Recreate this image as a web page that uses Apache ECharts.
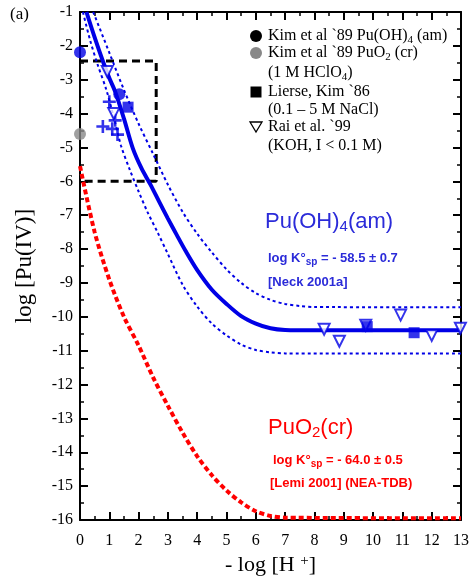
<!DOCTYPE html>
<html>
<head>
<meta charset="utf-8">
<script src="https://cdn.jsdelivr.net/npm/echarts@6/dist/echarts.min.js"></script>
<style>
  html, body { margin: 0; padding: 0; background: #fff; }
  #chart { width: 472px; height: 584px; }
</style>
</head>
<body>
<div id="chart"></div>
<script>
// Pu(OH)4(am) solubility curve and its uncertainty band (pH, log[Pu])
const amPH   = [0.22, 0.5, 0.8, 1.0, 1.2, 1.5, 1.8, 2.1, 2.4, 2.7, 3.0, 3.3, 3.6, 4.0, 4.5, 5.0, 5.5, 6.0, 6.5, 7.0, 8.0, 13];
const amLog  = [-1.0, -1.75, -2.5, -2.95, -3.35, -4.15, -5.02, -5.62, -6.09, -6.6, -7.1, -7.58, -8.05, -8.62, -9.2, -9.62, -9.98, -10.2, -10.34, -10.39, -10.4, -10.4];
const amHiPH  = [0.45, 1.0, 1.5, 2.0, 2.5, 3.0, 3.5, 4.0, 4.5, 5.0, 5.5, 6.0, 6.5, 7.0, 7.5, 8.0, 13];
const amHiLog = [-1.0, -2.2, -3.3, -4.3, -5.2, -6.1, -6.9, -7.55, -8.1, -8.6, -9.0, -9.3, -9.5, -9.62, -9.68, -9.71, -9.72];
const amLoPH  = [0.1, 0.35, 0.6, 0.9, 1.15, 1.4, 1.7, 2.0, 2.3, 2.66, 3.0, 3.5, 4.0, 4.5, 5.0, 5.5, 6.0, 6.5, 7.0, 13];
const amLoLog = [-1.0, -1.85, -2.55, -3.3, -4.1, -4.95, -5.66, -6.3, -6.9, -7.53, -8.15, -9.05, -9.7, -10.2, -10.55, -10.82, -10.98, -11.05, -11.08, -11.08];

// PuO2(cr) solubility curve
const crPH  = [0, 0.5, 1.0, 1.5, 2.0, 2.5, 3.0, 3.5, 4.0, 4.5, 5.0, 5.5, 6.0, 6.5, 7.0, 13];
const crLog = [-5.55, -7.5, -8.9, -10.0, -10.85, -11.8, -12.63, -13.42, -14.12, -14.68, -15.13, -15.48, -15.74, -15.88, -15.93, -15.95];

// Experimental data
const kimAmPH  = [0, 1.34];
const kimAmLog = [-2.19, -3.43];
const kimCrPH  = [0];
const kimCrLog = [-4.6];
const lierPH   = [1.64, 9.8, 11.4];
const lierLog  = [-3.81, -10.29, -10.47];
const raiPH    = [0.93, 1.15, 8.33, 8.85, 9.75, 10.94, 12.0, 12.98];
const raiLog   = [-2.76, -4.0, -10.37, -10.72, -10.25, -9.95, -10.55, -10.34];
const crossPH  = [1.0, 0.78, 1.1, 1.28, 1.2];
const crossLog = [-3.65, -4.38, -4.45, -4.62, -4.2];

// Region outlined by the dashed box
const boxPH  = [0, 2.6, 2.6, 0];
const boxLog = [-2.45, -2.45, -6.0, -6.0];

// Axis tick values
const xTicks = [0, 1, 2, 3, 4, 5, 6, 7, 8, 9, 10, 11, 12, 13];
const yTicks = [-1, -2, -3, -4, -5, -6, -7, -8, -9, -10, -11, -12, -13, -14, -15, -16];

const pairs = (xs, ys) => xs.map((x, i) => [x, ys[i]]);

const SERIF = '"Liberation Serif", "DejaVu Serif", serif';
const SANS = '"Liberation Sans", Arial, sans-serif';
const BLUE = '#0000e6';
const BLUE_TXT = '#2b2bd9';
const RED = '#ff0000';

const frameAxis = (common) => Object.assign({
  type: 'value',
  axisLine: { show: true, onZero: false, lineStyle: { color: '#000', width: 2 } },
  axisTick: { show: true, inside: true, length: 8, lineStyle: { color: '#000', width: 2 } },
  minorTick: { show: true, splitNumber: 2, length: 4, lineStyle: { color: '#000', width: 1.5 } },
  splitLine: { show: false },
  minorSplitLine: { show: false }
}, common);

const option = {
  animation: false,
  backgroundColor: '#fff',
  grid: { left: 80, right: 10, top: 12, bottom: 64 },
  xAxis: [
    frameAxis({
      min: xTicks[0], max: xTicks[xTicks.length - 1], interval: 1, position: 'bottom',
      axisLabel: { fontFamily: SERIF, fontSize: 16, color: '#000', margin: 13 },
      name: '- log [H {sup|+}]',
      nameLocation: 'middle', nameGap: 34,
      nameTextStyle: {
        fontFamily: SERIF, fontSize: 22, color: '#000',
        rich: { sup: { fontFamily: SERIF, fontSize: 15, verticalAlign: 'top', padding: [0, 0, 8, 0] } }
      }
    }),
    frameAxis({
      min: xTicks[0], max: xTicks[xTicks.length - 1], interval: 1, position: 'top',
      axisLabel: { show: false }
    })
  ],
  yAxis: [
    frameAxis({
      min: yTicks[yTicks.length - 1], max: yTicks[0], interval: 1, position: 'left',
      axisLabel: { fontFamily: SERIF, fontSize: 16, color: '#000', margin: 7 },
      name: 'log [Pu(IV)]',
      nameLocation: 'middle', nameGap: 44, nameRotate: 90,
      nameTextStyle: { fontFamily: SERIF, fontSize: 23, color: '#000' }
    }),
    frameAxis({
      min: yTicks[yTicks.length - 1], max: yTicks[0], interval: 1, position: 'right',
      axisLabel: { show: false }
    })
  ],
  series: [
    {
      type: 'line', data: pairs(boxPH, boxLog), showSymbol: false, silent: true,
      lineStyle: { color: '#000', width: 3, type: [8, 5] }, z: 3
    },
    {
      type: 'line', data: pairs(crPH, crLog), showSymbol: false, smooth: 0.3,
      lineStyle: { color: RED, width: 4, type: [5, 3] }, z: 4
    },
    {
      type: 'line', data: pairs(amHiPH, amHiLog), showSymbol: false, smooth: 0.3,
      lineStyle: { color: BLUE, width: 2, type: [3, 3] }, z: 4
    },
    {
      type: 'line', data: pairs(amLoPH, amLoLog), showSymbol: false, smooth: 0.3,
      lineStyle: { color: BLUE, width: 2, type: [3, 3] }, z: 4
    },
    {
      type: 'line', data: pairs(amPH, amLog), showSymbol: false, smooth: 0.3,
      lineStyle: { color: BLUE, width: 4 }, z: 5
    },
    {
      type: 'scatter', data: pairs(crossPH, crossLog), clip: false,
      symbol: 'path://M4,0 L6,0 L6,4 L10,4 L10,6 L6,6 L6,10 L4,10 L4,6 L0,6 L0,4 L4,4 Z',
      symbolSize: 13, itemStyle: { color: BLUE }, z: 6
    },
    {
      type: 'scatter', data: pairs(raiPH, raiLog), clip: false,
      symbol: 'triangle', symbolRotate: 180, symbolSize: 11,
      itemStyle: { color: '#fff', borderColor: BLUE, borderWidth: 2 }, z: 6
    },
    {
      type: 'scatter', data: pairs(lierPH, lierLog), clip: false,
      symbol: 'rect', symbolSize: 11, itemStyle: { color: BLUE }, z: 7
    },
    {
      type: 'scatter', data: pairs(kimCrPH, kimCrLog), clip: false,
      symbol: 'circle', symbolSize: 12, itemStyle: { color: '#888' }, z: 7
    },
    {
      type: 'scatter', data: pairs(kimAmPH, kimAmLog), clip: false,
      symbol: 'circle', symbolSize: 12, itemStyle: { color: BLUE }, z: 7
    }
  ],
  graphic: [
    { type: 'text', left: 10, top: 6, style: { text: '(a)', font: '17px ' + SERIF, fill: '#000' } },

    // legend
    { type: 'circle', shape: { cx: 256, cy: 36, r: 6 }, style: { fill: '#000' }, z: 10 },
    { type: 'circle', shape: { cx: 256, cy: 53, r: 6 }, style: { fill: '#888' }, z: 10 },
    { type: 'rect', shape: { x: 250.5, y: 86.5, width: 11, height: 11 }, style: { fill: '#000' }, z: 10 },
    { type: 'polygon', shape: { points: [[250, 122], [262, 122], [256, 132]] }, style: { fill: 'none', stroke: '#000', lineWidth: 1.3 }, z: 10 },
    ...[
      [36, 'Kim et al `89 Pu(OH){s|4} (am)'],
      [53, 'Kim et al `89 PuO{s|2} (cr)'],
      [73, '(1 M HClO{s|4})'],
      [92, 'Lierse, Kim `86'],
      [110, '(0.1 – 5 M NaCl)'],
      [127, 'Rai et al. `99'],
      [146, '(KOH, I < 0.1 M)']
    ].map(([y, t]) => ({
      type: 'text', z: 10,
      style: {
        text: t, x: 268, y: y, verticalAlign: 'middle',
        fontFamily: SERIF, fontSize: 16, fill: '#000',
        rich: { s: { fontFamily: SERIF, fontSize: 11, verticalAlign: 'bottom', padding: [8, 0, 0, 0] } }
      }
    })),

    // Pu(OH)4(am) annotation
    {
      type: 'text', z: 10,
      style: {
        text: 'Pu(OH){s|4}(am)', x: 265, y: 222, verticalAlign: 'middle',
        fontFamily: SANS, fontSize: 22, fill: BLUE_TXT,
        rich: { s: { fontFamily: SANS, fontSize: 15, verticalAlign: 'bottom', padding: [10, 0, 0, 0] } }
      }
    },
    {
      type: 'text', z: 10,
      style: {
        text: 'log K°{s|sp} = - 58.5 ± 0.7', x: 268, y: 258, verticalAlign: 'middle',
        fontFamily: SANS, fontSize: 13, fontWeight: 'bold', fill: BLUE_TXT,
        rich: { s: { fontFamily: SANS, fontSize: 10, fontWeight: 'bold', verticalAlign: 'bottom', padding: [8, 0, 0, 0] } }
      }
    },
    {
      type: 'text', z: 10,
      style: {
        text: '[Neck 2001a]', x: 268, y: 282, verticalAlign: 'middle',
        fontFamily: SANS, fontSize: 13, fontWeight: 'bold', fill: BLUE_TXT
      }
    },

    // PuO2(cr) annotation
    {
      type: 'text', z: 10,
      style: {
        text: 'PuO{s|2}(cr)', x: 268, y: 428, verticalAlign: 'middle',
        fontFamily: SANS, fontSize: 22, fill: RED,
        rich: { s: { fontFamily: SANS, fontSize: 15, verticalAlign: 'bottom', padding: [10, 0, 0, 0] } }
      }
    },
    {
      type: 'text', z: 10,
      style: {
        text: 'log K°{s|sp} = - 64.0 ± 0.5', x: 273, y: 460, verticalAlign: 'middle',
        fontFamily: SANS, fontSize: 13, fontWeight: 'bold', fill: RED,
        rich: { s: { fontFamily: SANS, fontSize: 10, fontWeight: 'bold', verticalAlign: 'bottom', padding: [8, 0, 0, 0] } }
      }
    },
    {
      type: 'text', z: 10,
      style: {
        text: '[Lemi 2001] (NEA-TDB)', x: 270, y: 483, verticalAlign: 'middle',
        fontFamily: SANS, fontSize: 13, fontWeight: 'bold', fill: RED
      }
    }
  ]
};

const chart = echarts.init(document.getElementById('chart'), null, { renderer: 'canvas' });
chart.setOption(option);
</script>
</body>
</html>
